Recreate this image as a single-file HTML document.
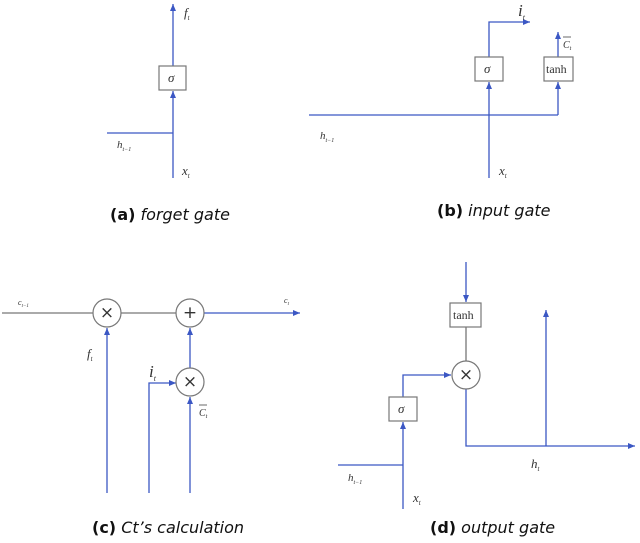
<!DOCTYPE html>
<html><head><meta charset="utf-8"><style>
html,body{margin:0;padding:0;background:#fff;}
svg{display:block}
.l{stroke:#3b57c4;stroke-width:1.3;fill:none}
.g{stroke:#777;stroke-width:1.2;fill:#fff}
.t{font-family:"Liberation Serif",serif;font-style:italic;fill:#333}
.cap{font-family:"DejaVu Sans","Liberation Sans",sans-serif;font-size:16px;fill:#111}
</style></head><body>
<svg width="640" height="543" viewBox="0 0 640 543">
<defs><marker id="a" markerWidth="8" markerHeight="8" refX="7" refY="4" orient="auto" markerUnits="userSpaceOnUse"><path d="M0,1 L7,4 L0,7 Z" fill="#3b57c4"/></marker></defs>
<!-- (a) -->
<line class="l" x1="173" y1="178" x2="173" y2="91" marker-end="url(#a)"/>
<line class="l" x1="173" y1="66" x2="173" y2="4" marker-end="url(#a)"/>
<line class="l" x1="107" y1="133" x2="173" y2="133"/>
<rect class="g" x="159" y="66" width="27" height="24"/>
<text class="t" x="168" y="82" font-size="13">σ</text>
<text class="t" x="184" y="17" font-size="13">f<tspan font-size="7" dy="3">t</tspan></text>
<text class="t" x="117" y="148" font-size="11">h<tspan font-size="6" dy="3">t−1</tspan></text>
<text class="t" x="182" y="175" font-size="13">x<tspan font-size="7" dy="3">t</tspan></text>
<text class="cap" x="110" y="220"><tspan font-weight="bold">(a)</tspan> <tspan font-style="italic">forget gate</tspan></text>
<!-- (b) -->
<line class="l" x1="309" y1="115" x2="558" y2="115"/>
<line class="l" x1="489" y1="178" x2="489" y2="82" marker-end="url(#a)"/>
<polyline class="l" points="489,57 489,22 530,22" marker-end="url(#a)"/>
<line class="l" x1="558" y1="115" x2="558" y2="82" marker-end="url(#a)"/>
<line class="l" x1="558" y1="57" x2="558" y2="32" marker-end="url(#a)"/>
<rect class="g" x="475" y="57" width="28" height="24"/>
<text class="t" x="484" y="73" font-size="13">σ</text>
<rect class="g" x="544" y="57" width="29" height="24"/>
<text x="546" y="73" font-size="12" font-family="Liberation Serif,serif" fill="#333">tanh</text>
<text class="t" x="518" y="16" font-size="17">i<tspan font-size="8" dy="4">t</tspan></text>
<text class="t" x="563" y="48" font-size="10">C<tspan font-size="6" dy="2">t</tspan></text>
<line x1="563" y1="37" x2="571" y2="37" stroke="#444" stroke-width="0.8"/>
<text class="t" x="320" y="139" font-size="11">h<tspan font-size="6" dy="3">t−1</tspan></text>
<text class="t" x="499" y="175" font-size="13">x<tspan font-size="7" dy="3">t</tspan></text>
<text class="cap" x="437" y="216"><tspan font-weight="bold">(b)</tspan> <tspan font-style="italic">input gate</tspan></text>
<!-- (c) -->
<line class="l" x1="2" y1="313" x2="93" y2="313" style="stroke:#777"/>
<line class="l" x1="121" y1="313" x2="176" y2="313" style="stroke:#777"/>
<line class="l" x1="204" y1="313" x2="300" y2="313" marker-end="url(#a)"/>
<line class="l" x1="107" y1="493" x2="107" y2="328" marker-end="url(#a)"/>
<line class="l" x1="190" y1="368" x2="190" y2="328" marker-end="url(#a)"/>
<line class="l" x1="190" y1="493" x2="190" y2="397" marker-end="url(#a)"/>
<polyline class="l" points="149,493 149,383 176,383" marker-end="url(#a)"/>
<circle class="g" cx="107" cy="313" r="14"/>
<circle class="g" cx="190" cy="313" r="14"/>
<circle class="g" cx="190" cy="382" r="14"/>
<text x="107" y="318" font-size="17" text-anchor="middle" font-family="DejaVu Sans,sans-serif" fill="#333">×</text>
<text x="190" y="318" font-size="17" text-anchor="middle" font-family="DejaVu Sans,sans-serif" fill="#333">+</text>
<text x="190" y="387" font-size="17" text-anchor="middle" font-family="DejaVu Sans,sans-serif" fill="#333">×</text>
<text class="t" x="18" y="305" font-size="8">c<tspan font-size="5" dy="2">t−1</tspan></text>
<text class="t" x="284" y="303" font-size="8">c<tspan font-size="5" dy="2">t</tspan></text>
<text class="t" x="87" y="358" font-size="13">f<tspan font-size="7" dy="3">t</tspan></text>
<text class="t" x="149" y="377" font-size="17">i<tspan font-size="8" dy="4">t</tspan></text>
<text class="t" x="199" y="416" font-size="10">C<tspan font-size="6" dy="2">t</tspan></text>
<line x1="199" y1="405" x2="207" y2="405" stroke="#444" stroke-width="0.8"/>
<text class="cap" x="92" y="533"><tspan font-weight="bold">(c)</tspan> <tspan font-style="italic">Ct’s calculation</tspan></text>
<!-- (d) -->
<line class="l" x1="466" y1="262" x2="466" y2="302" marker-end="url(#a)"/>
<line class="l" x1="466" y1="327" x2="466" y2="361" style="stroke:#777"/>
<polyline class="l" points="466,389 466,446 635,446" marker-end="url(#a)"/>
<line class="l" x1="546" y1="446" x2="546" y2="310" marker-end="url(#a)"/>
<line class="l" x1="403" y1="509" x2="403" y2="422" marker-end="url(#a)"/>
<polyline class="l" points="403,397 403,375 451,375" marker-end="url(#a)"/>
<line class="l" x1="338" y1="465" x2="403" y2="465"/>
<rect class="g" x="450" y="303" width="31" height="24"/>
<text x="453" y="319" font-size="12" font-family="Liberation Serif,serif" fill="#333">tanh</text>
<circle class="g" cx="466" cy="375" r="14"/>
<text x="466" y="380" font-size="17" text-anchor="middle" font-family="DejaVu Sans,sans-serif" fill="#333">×</text>
<rect class="g" x="389" y="397" width="28" height="24"/>
<text class="t" x="398" y="413" font-size="13">σ</text>
<text class="t" x="348" y="481" font-size="11">h<tspan font-size="6" dy="3">t−1</tspan></text>
<text class="t" x="413" y="502" font-size="13">x<tspan font-size="7" dy="3">t</tspan></text>
<text class="t" x="531" y="468" font-size="13">h<tspan font-size="7" dy="3">t</tspan></text>
<text class="cap" x="430" y="533"><tspan font-weight="bold">(d)</tspan> <tspan font-style="italic">output gate</tspan></text>
</svg>
</body></html>
